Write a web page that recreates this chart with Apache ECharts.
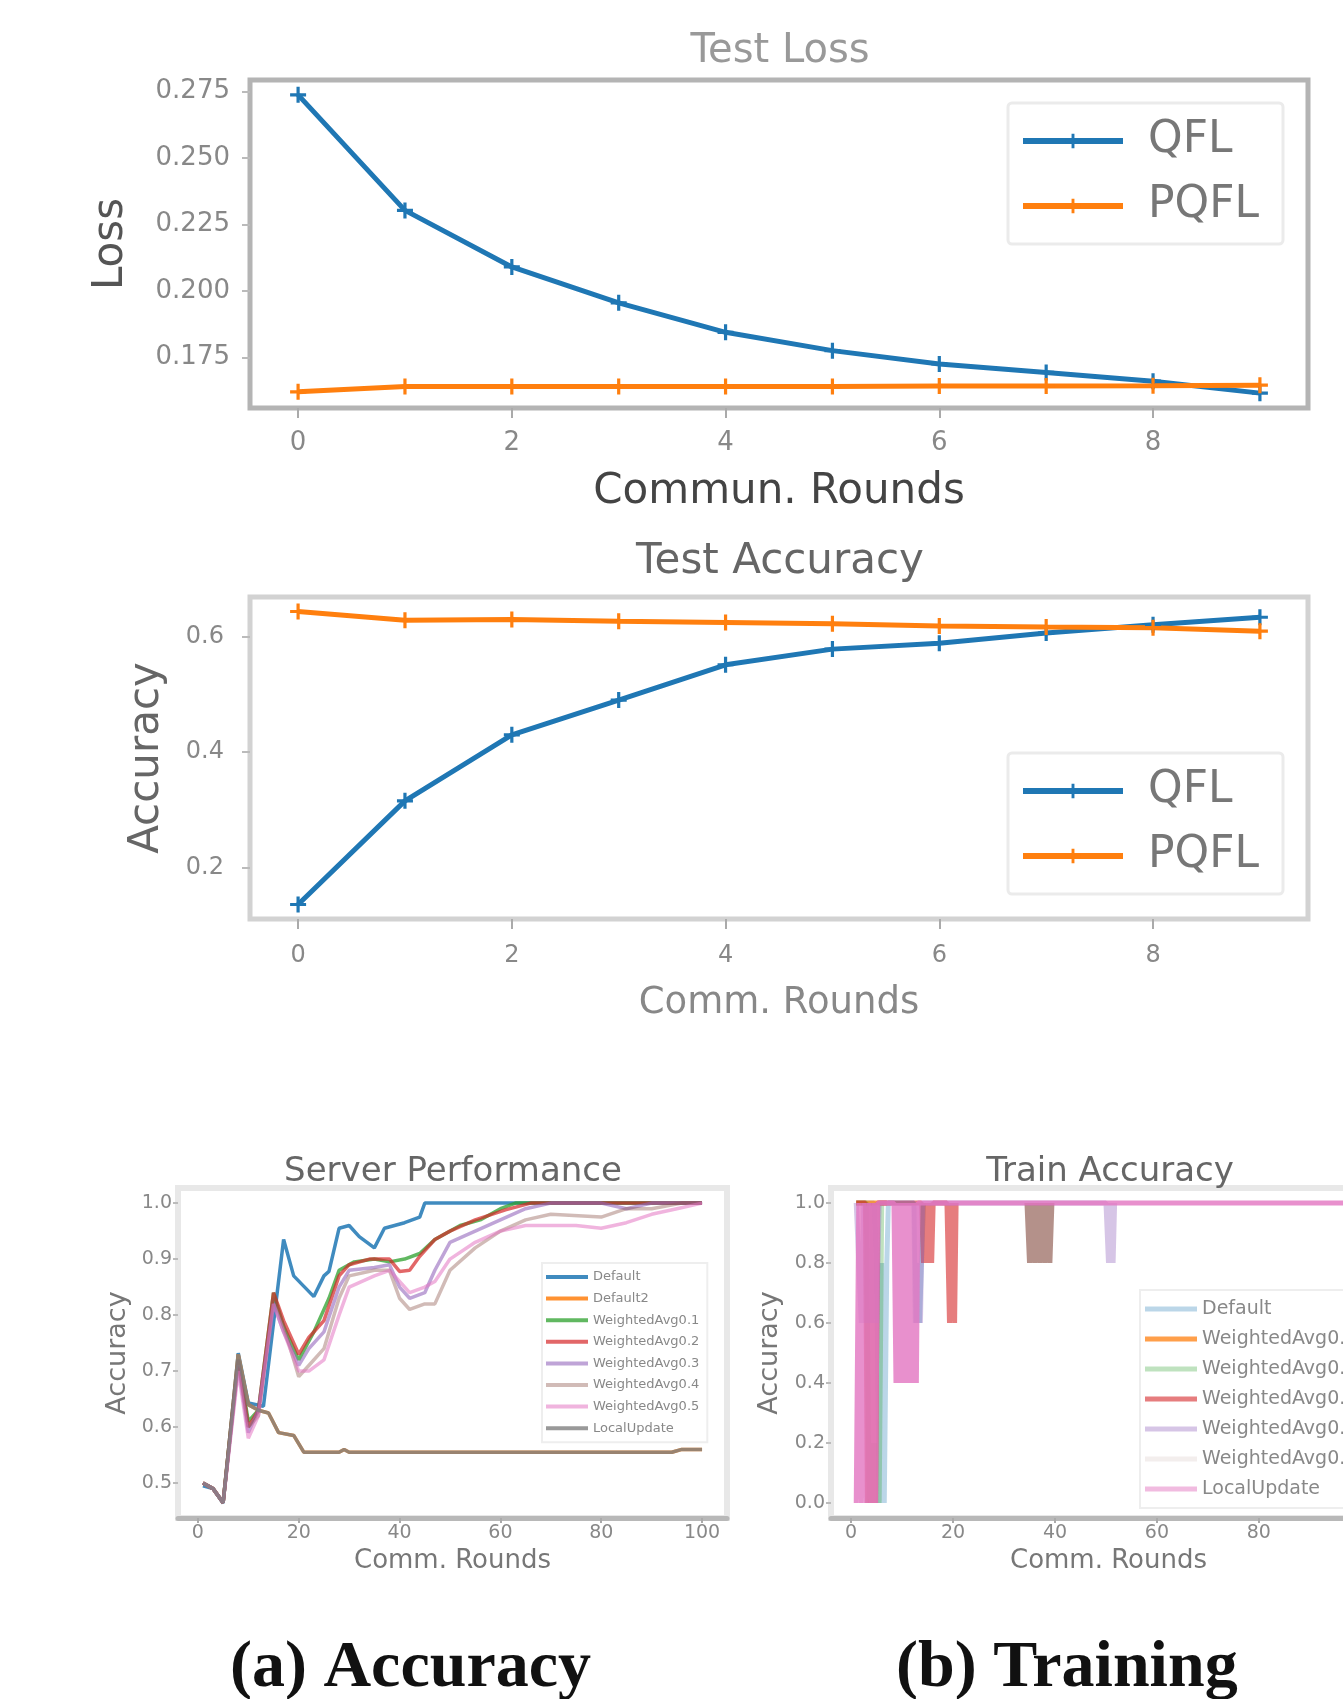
<!DOCTYPE html>
<html>
<head>
<meta charset="utf-8">
<title>QFL vs PQFL</title>
<script src="https://cdn.jsdelivr.net/npm/echarts@6/dist/echarts.min.js"></script>
<style>
html, body { margin: 0; padding: 0; background: #fff; overflow: hidden; }
#main { position: absolute; left: 0; top: 0; width: 1343px; height: 1699px; }
#train { position: absolute; left: 740px; top: 1140px; width: 700px; height: 460px; }
</style>
</head>
<body>
<div id="main"></div>
<div id="train"></div>
<script>
// ---- data ----
var rounds = [0, 1, 2, 3, 4, 5, 6, 7, 8, 9];
var qflLoss = [0.2738, 0.2303, 0.2090, 0.1955, 0.1844, 0.1775, 0.1725, 0.1693, 0.1660, 0.1615];
var pqflLoss = [0.1620, 0.1640, 0.1640, 0.1640, 0.1640, 0.1640, 0.1642, 0.1642, 0.1643, 0.1645];
var lossTicks = [0.175, 0.200, 0.225, 0.250, 0.275];
var qflAcc = [0.137, 0.316, 0.430, 0.490, 0.551, 0.578, 0.588, 0.606, 0.620, 0.633];
var pqflAcc = [0.643, 0.628, 0.629, 0.626, 0.624, 0.622, 0.618, 0.616, 0.615, 0.609];
var accTicks = [0.2, 0.4, 0.6];
var roundTicks = [0, 2, 4, 6, 8];

var commTicks = [0, 20, 40, 60, 80, 100];
var serverTicks = [0.5, 0.6, 0.7, 0.8, 0.9, 1.0];
var trainTicks = [0.0, 0.2, 0.4, 0.6, 0.8, 1.0];

var serverNames = ['Default', 'Default2', 'WeightedAvg0.1', 'WeightedAvg0.2', 'WeightedAvg0.3',
                   'WeightedAvg0.4', 'WeightedAvg0.5', 'LocalUpdate'];
var serverDefault = [[1,0.495],[3,0.49],[5,0.464],[8,0.732],[10,0.643],[13,0.637],[17,0.935],[19,0.87],
                     [23,0.833],[25,0.87],[26,0.878],[28,0.955],[30,0.96],[32,0.94],[35,0.92],[37,0.955],
                     [41,0.965],[44,0.975],[45,1.0],[100,1.0]];
var serverDefault2 = [[1,0.5],[3,0.49],[5,0.465],[8,0.73],[10,0.64],[12,0.63],[14,0.625],[16,0.59],
                      [19,0.585],[21,0.555],[28,0.555],[29,0.56],[30,0.555],[94,0.555],[96,0.56],[100,0.56]];
var serverW1 = [[1,0.5],[3,0.49],[5,0.465],[8,0.72],[10,0.61],[12,0.63],[15,0.84],[17,0.78],[20,0.72],
                [23,0.77],[26,0.83],[28,0.88],[31,0.895],[35,0.9],[38,0.895],[41,0.9],[44,0.91],[47,0.935],
                [52,0.96],[56,0.97],[60,0.99],[63,1.0],[100,1.0]];
var serverW2 = [[1,0.5],[3,0.49],[5,0.465],[8,0.72],[10,0.6],[12,0.63],[15,0.84],[17,0.79],[20,0.73],
                [22,0.76],[25,0.79],[28,0.87],[30,0.89],[34,0.9],[38,0.9],[40,0.878],[42,0.88],[44,0.905],
                [47,0.935],[50,0.95],[55,0.97],[61,0.988],[66,1.0],[100,1.0]];
var serverW3 = [[1,0.5],[3,0.49],[5,0.465],[8,0.71],[10,0.59],[12,0.63],[15,0.82],[17,0.77],[20,0.71],
                [22,0.74],[25,0.77],[28,0.85],[30,0.88],[35,0.885],[38,0.89],[40,0.85],[42,0.83],[45,0.84],
                [47,0.88],[50,0.93],[55,0.95],[60,0.97],[65,0.99],[70,1.0],[80,1.0],[85,0.99],[90,1.0],[100,1.0]];
var serverW4 = [[1,0.5],[3,0.49],[5,0.465],[8,0.72],[10,0.6],[12,0.62],[15,0.83],[17,0.78],[20,0.69],
                [22,0.71],[25,0.74],[28,0.83],[30,0.87],[35,0.88],[38,0.88],[40,0.83],[42,0.81],[45,0.82],
                [47,0.82],[50,0.88],[55,0.92],[60,0.95],[65,0.97],[70,0.98],[80,0.975],[85,0.99],[90,0.99],
                [96,1.0],[100,1.0]];
var serverW5 = [[1,0.5],[3,0.49],[5,0.465],[8,0.7],[10,0.58],[12,0.62],[15,0.82],[17,0.77],[20,0.7],
                [22,0.7],[25,0.72],[28,0.8],[30,0.85],[35,0.87],[38,0.88],[40,0.86],[42,0.84],[45,0.85],
                [47,0.86],[50,0.9],[55,0.93],[60,0.95],[65,0.96],[75,0.96],[80,0.955],[85,0.965],[90,0.98],
                [95,0.99],[100,1.0]];
var serverLocal = [[1,0.5],[3,0.49],[5,0.465],[8,0.73],[10,0.64],[12,0.63],[14,0.625],[16,0.59],
                   [19,0.585],[21,0.555],[28,0.555],[29,0.56],[30,0.555],[94,0.555],[96,0.56],[100,0.56]];

var trainNames = ['Default', 'WeightedAvg0.1', 'WeightedAvg0.2', 'WeightedAvg0.3', 'WeightedAvg0.4',
                  'WeightedAvg0.5', 'LocalUpdate'];
var trainDefault = [[1,1],[4.5,1],[5,0.8],[5.5,0],[6,0.8],[6.5,0],[7,0.8],[7.3,1],[12.3,1],[12.6,0.6],
                    [13,0.8],[13.4,0.6],[13.8,0.8],[14.2,1]];
var trainW1 = [[1,1],[7,1]];
var trainW2 = [[1,1],[3,1],[3.5,0],[4,0.2],[4.5,0],[5,0.2],[5.5,0],[6,1]];
var trainW3 = [[1,1],[2.8,1],[3.2,0],[3.6,1],[4,0],[4.4,1],[4.8,0],[5.2,1],[13.8,1],[14.2,0.8],[14.6,1],
               [15,0.8],[15.4,1],[15.8,0.8],[16.1,1],[18.8,1],[19.3,0.6],[19.8,1],[20.3,0.6],[20.6,1]];
var trainW4 = [[1,1],[2,0.6],[2.5,1],[3,0.6],[3.5,1],[4,0.6],[4.5,1],[5,0.6],[5.5,1],[12.4,1],[12.8,0.6],
               [13.2,1],[13.6,0.6],[14,1],[50,1],[50.5,0.8],[51,1],[51.4,0.8],[51.7,1]];
var trainW5 = [[34.5,1],[35,0.8],[35.5,1],[36,0.8],[36.5,1],[37,0.8],[37.5,1],[38,0.8],[38.5,1],[39,0.8],[39.4,1]];
var trainLocal = [[1,0],[1.5,1],[2,0],[2.5,1],[3,0],[3.5,1],[4,0],[4.5,1],[4.8,0],[5.2,1],[8.4,1],[8.8,0.4],
                  [9.2,1],[9.6,0.4],[10,1],[10.4,0.4],[10.8,1],[11.2,0.4],[11.6,1],[12,0.4],[12.4,1],[12.8,0.4],
                  [13.1,1],[100,1]];

// ---- styling helpers ----
var FONT = 'DejaVu Sans';
var plusSym = 'path://M4,0H6V10H4ZM0,4H10V6H0Z';

function pairs(xs, ys) {
    var out = [];
    for (var i = 0; i < xs.length; i++) {
        out.push([xs[i], ys[i]]);
    }
    return out;
}

function xAxisCfg(grid, min, max, ticks, o) {
    return {
        type: 'value', gridIndex: grid, min: min, max: max,
        name: o.name, nameLocation: 'middle', nameGap: o.nameGap,
        nameTextStyle: { fontFamily: FONT, fontSize: o.nameSize, color: o.nameColor },
        axisLine: { show: !!o.lineColor, onZero: false, lineStyle: { color: o.lineColor, width: 5 } },
        axisTick: { show: true, customValues: ticks, length: o.tickLen, lineStyle: { color: '#aaa', width: 2 } },
        axisLabel: { customValues: ticks, margin: o.margin, fontFamily: FONT, fontSize: o.labelSize,
                     color: '#888', formatter: function (v) { return String(v); } },
        splitLine: { show: false }
    };
}

function yAxisCfg(grid, min, max, ticks, digits, o) {
    return {
        type: 'value', gridIndex: grid, min: min, max: max,
        name: o.name, nameLocation: 'middle', nameGap: o.nameGap,
        nameTextStyle: { fontFamily: FONT, fontSize: o.nameSize, color: o.nameColor },
        axisLine: { show: false, onZero: false },
        axisTick: { show: true, customValues: ticks, length: o.tickLen, lineStyle: { color: '#bbb', width: 2 } },
        axisLabel: { customValues: ticks, margin: o.margin, fontFamily: FONT, fontSize: o.labelSize,
                     color: '#888', formatter: function (v) { return v.toFixed(digits); } },
        splitLine: { show: false }
    };
}

function markedLine(name, data, color, grid) {
    return {
        name: name, type: 'line', data: data, xAxisIndex: grid, yAxisIndex: grid,
        symbol: plusSym, symbolSize: 16, showSymbol: true,
        itemStyle: { color: color }, lineStyle: { color: color, width: 5 },
        animation: false
    };
}

function plainLine(name, data, color, width, grid) {
    return {
        name: name, type: 'line', data: data, xAxisIndex: grid, yAxisIndex: grid,
        symbol: 'none', showSymbol: false,
        itemStyle: { color: color }, lineStyle: { color: color, width: width },
        animation: false
    };
}

// ---- main figure: Test Loss, Test Accuracy, Server Performance ----
var mainChart = echarts.init(document.getElementById('main'));
var serverColors = ['rgba(31,119,180,0.85)', 'rgba(255,127,14,0.85)', 'rgba(44,160,44,0.75)',
                    'rgba(214,39,40,0.7)', 'rgba(148,103,189,0.6)', 'rgba(140,86,75,0.4)',
                    'rgba(227,119,194,0.55)', 'rgba(127,127,127,0.8)'];
var serverData = [serverDefault, serverDefault2, serverW1, serverW2, serverW3, serverW4, serverW5, serverLocal];

var mainSeries = [
    markedLine('QFL', pairs(rounds, qflLoss), '#1f77b4', 0),
    markedLine('PQFL', pairs(rounds, pqflLoss), '#ff7f0e', 0),
    markedLine('QFL', pairs(rounds, qflAcc), '#1f77b4', 1),
    markedLine('PQFL', pairs(rounds, pqflAcc), '#ff7f0e', 1)
];
for (var i = 0; i < serverNames.length; i++) {
    mainSeries.push(plainLine(serverNames[i], serverData[i], serverColors[i], 3.5, 2));
}

var bigLegend = {
    orient: 'vertical', left: 1008, padding: [13, 24, 13, 12], itemWidth: 100, itemHeight: 18,
    itemGap: 15, backgroundColor: '#fff', borderColor: '#ebebeb', borderWidth: 3, borderRadius: 4,
    lineStyle: { width: 6 },
    textStyle: { fontFamily: FONT, fontSize: 44, lineHeight: 50, color: '#777', padding: [0, 0, 0, 20] },
    data: ['QFL', 'PQFL']
};

var mainOption = {
    backgroundColor: '#FFFFFF',
    animation: false,
    grid: [
        { left: 250, top: 80, width: 1058, height: 328, show: true, borderColor: '#b4b4b4', borderWidth: 5 },
        { left: 250, top: 597, width: 1058, height: 322, show: true, borderColor: '#d2d2d2', borderWidth: 5 },
        { left: 178, top: 1188, width: 549, height: 330, show: true, borderColor: '#e8e8e8', borderWidth: 6 }
    ],
    xAxis: [
        xAxisCfg(0, -0.45, 9.45, roundTicks, { name: 'Commun. Rounds', nameGap: 63, nameSize: 42,
            nameColor: '#444', tickLen: 10, margin: 22, labelSize: 26 }),
        xAxisCfg(1, -0.45, 9.45, roundTicks, { name: 'Comm. Rounds', nameGap: 66, nameSize: 37,
            nameColor: '#888', tickLen: 10, margin: 25, labelSize: 24 }),
        xAxisCfg(2, -3.95, 104.95, commTicks, { name: 'Comm. Rounds', nameGap: 30, nameSize: 26,
            nameColor: '#777', lineColor: '#b8b8b8', tickLen: 5, margin: 6, labelSize: 19 })
    ],
    yAxis: [
        yAxisCfg(0, 0.1559, 0.2794, lossTicks, 3, { name: 'Loss', nameGap: 118, nameSize: 42,
            nameColor: '#555', tickLen: 8, margin: 20, labelSize: 26 }),
        yAxisCfg(1, 0.112, 0.668, accTicks, 1, { name: 'Accuracy', nameGap: 82, nameSize: 42,
            nameColor: '#666', tickLen: 8, margin: 26, labelSize: 24 }),
        yAxisCfg(2, 0.4375, 1.027, serverTicks, 1, { name: 'Accuracy', nameGap: 47, nameSize: 27,
            nameColor: '#777', tickLen: 5, margin: 6, labelSize: 19 })
    ],
    legend: [
        Object.assign({}, bigLegend, { top: 103 }),
        Object.assign({}, bigLegend, { top: 753 }),
        { orient: 'vertical', left: 542, top: 1263, padding: [6, 8, 6, 4], itemWidth: 42, itemHeight: 4,
          itemGap: 5.6, icon: 'rect', backgroundColor: '#fff', borderColor: '#eee', borderWidth: 2,
          textStyle: { fontFamily: FONT, fontSize: 13, lineHeight: 16, color: '#888' },
          data: serverNames }
    ],
    graphic: [
        { type: 'text', x: 780, y: 52, style: { text: 'Test Loss', font: '40px "DejaVu Sans"', fill: '#999',
          align: 'center', verticalAlign: 'middle' } },
        { type: 'text', x: 780, y: 562, style: { text: 'Test Accuracy', font: '42px "DejaVu Sans"', fill: '#666',
          align: 'center', verticalAlign: 'middle' } },
        { type: 'text', x: 453, y: 1172, style: { text: 'Server Performance', font: '34px "DejaVu Sans"',
          fill: '#666', align: 'center', verticalAlign: 'middle' } },
        { type: 'text', x: 230, y: 1669, style: { text: '(a) Accuracy', font: 'bold 66px "Liberation Serif"',
          fill: '#111', align: 'left', verticalAlign: 'middle' } },
        { type: 'text', x: 896, y: 1669, style: { text: '(b) Training', font: 'bold 66px "Liberation Serif"',
          fill: '#111', align: 'left', verticalAlign: 'middle' } }
    ],
    series: mainSeries
};
mainChart.setOption(mainOption);

// ---- Train Accuracy panel (runs off the right edge) ----
var trainChart = echarts.init(document.getElementById('train'));
var trainColors = ['rgba(31,119,180,0.3)', 'rgba(255,127,14,0.75)', 'rgba(44,160,44,0.3)',
                   'rgba(214,39,40,0.6)', 'rgba(148,103,189,0.38)', 'rgba(140,86,75,0.65)',
                   'rgba(227,119,194,0.82)'];
var trainData = [trainDefault, trainW1, trainW2, trainW3, trainW4, trainW5, trainLocal];
var trainSeries = [];
var trainLegend = [];
for (var j = 0; j < trainNames.length; j++) {
    trainSeries.push(plainLine(trainNames[j], trainData[j], trainColors[j], 5, 0));
    trainLegend.push({ name: trainNames[j] });
}
// swatches are paler than the overlapping marks in the plot
trainLegend[5].itemStyle = { color: 'rgba(140,86,75,0.1)' };
trainLegend[6].itemStyle = { color: 'rgba(227,119,194,0.5)' };

var trainOption = {
    animation: false,
    grid: [{ left: 91, top: 48, width: 555, height: 330, show: true, borderColor: '#e8e8e8', borderWidth: 6 }],
    xAxis: [xAxisCfg(0, -3.95, 104.95, commTicks, { name: 'Comm. Rounds', nameGap: 30, nameSize: 26,
        nameColor: '#777', lineColor: '#b8b8b8', tickLen: 5, margin: 6, labelSize: 19 })],
    yAxis: [yAxisCfg(0, -0.05, 1.05, trainTicks, 1, { name: 'Accuracy', nameGap: 44, nameSize: 27,
        nameColor: '#777', tickLen: 5, margin: 6, labelSize: 19 })],
    legend: [{ orient: 'vertical', left: 400, top: 150, padding: [8, 8, 8, 5], itemWidth: 52, itemHeight: 5,
        itemGap: 8, icon: 'rect', backgroundColor: '#fff', borderColor: '#eee', borderWidth: 2,
        textStyle: { fontFamily: FONT, fontSize: 19, lineHeight: 22, color: '#888' },
        data: trainLegend }],
    graphic: [
        { type: 'text', x: 370, y: 32, style: { text: 'Train Accuracy', font: '34px "DejaVu Sans"',
          fill: '#666', align: 'center', verticalAlign: 'middle' } }
    ],
    series: trainSeries
};
trainChart.setOption(trainOption);
</script>
</body>
</html>
